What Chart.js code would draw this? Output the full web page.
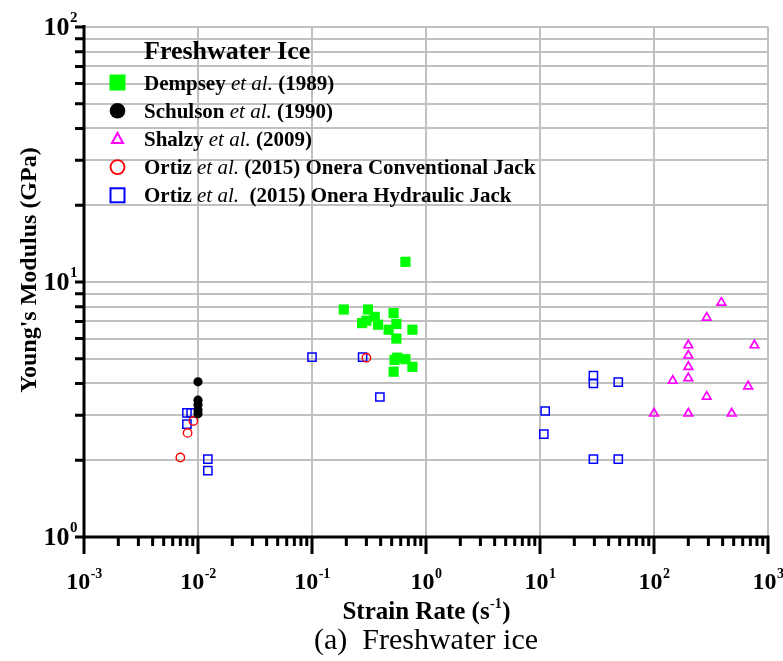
<!DOCTYPE html>
<html>
<head>
<meta charset="utf-8">
<script src="https://cdn.jsdelivr.net/npm/chart.js@4.4.0/dist/chart.umd.min.js"></script>
<style>
  html, body { margin: 0; padding: 0; background: #fff; }
  canvas { display: block; }
</style>
</head>
<body>
<canvas id="myChart" width="783" height="661"></canvas>
<script>
// strain rate (1/s) against Young's modulus (GPa), one pair of arrays per source
var dempseyRate    = [0.66, 0.19, 0.31, 0.52, 0.355, 0.275, 0.30, 0.38, 0.55, 0.47, 0.76, 0.55, 0.53, 0.56, 0.66, 0.76, 0.52];
var dempseyModulus = [12.0, 7.8, 7.8, 7.55, 7.3, 6.9, 7.05, 6.8, 6.85, 6.5, 6.5, 6.0, 4.95, 5.05, 4.98, 4.65, 4.45];

var schulsonRate    = [0.01, 0.01, 0.01, 0.01, 0.01];
var schulsonModulus = [4.06, 3.44, 3.30, 3.15, 3.04];

var shalzyRate    = [390, 290, 200, 760, 200, 200, 200, 146, 670, 290, 100, 200, 480];
var shalzyModulus = [8.3, 7.25, 5.65, 5.65, 5.15, 4.65, 4.2, 4.1, 3.9, 3.55, 3.05, 3.05, 3.05];

var ortizConvRate    = [0.0091, 0.0081, 0.0070, 0.30];
var ortizConvModulus = [2.85, 2.56, 2.05, 5.05];

var ortizHydRate    = [0.0080, 0.0087, 0.0080, 0.0122, 0.0122, 0.10, 0.278, 0.394, 29.4, 29.4, 48.6, 11.1, 10.8, 29.4, 48.6];
var ortizHydModulus = [3.07, 3.07, 2.77, 2.02, 1.82, 5.07, 5.07, 3.54, 4.29, 4.0, 4.05, 3.12, 2.53, 2.02, 2.02];

// decade exponents used for the tick labels
var xTickExponents = [-3, -2, -1, 0, 1, 2, 3];
var yTickExponents = [0, 1, 2];

var legendTitle = 'Freshwater Ice';
// each label: bold author, italic "et al.", bold rest
var legendLabels = [
  ['Dempsey ', 'et al.', ' (1989)'],
  ['Schulson ', 'et al.', ' (1990)'],
  ['Shalzy ', 'et al.', ' (2009)'],
  ['Ortiz ', 'et al.', ' (2015) Onera Conventional Jack'],
  ['Ortiz ', 'et al.', '  (2015) Onera Hydraulic Jack']
];
var xTitle = ['Strain Rate (s', '-1', ')'];
var yTitle = "Young's Modulus (GPa)";
var caption = '(a)  Freshwater ice';

var SERIF = '"Liberation Serif", "Times New Roman", serif';

function pts(xs, ys) {
  return xs.map(function (x, i) { return { x: x, y: ys[i] }; });
}

// legend marker drawing, same look as the plotted points but larger
function legendMarker(ctx, kind, cx, cy) {
  ctx.save();
  if (kind === 0) {
    ctx.fillStyle = '#00ff00';
    ctx.fillRect(cx - 8, cy - 8, 16, 16);
  } else if (kind === 1) {
    ctx.fillStyle = '#000';
    ctx.beginPath(); ctx.arc(cx, cy, 7.8, 0, Math.PI * 2); ctx.fill();
  } else if (kind === 2) {
    ctx.strokeStyle = '#ff00ff'; ctx.lineWidth = 2;
    ctx.beginPath();
    ctx.moveTo(cx, cy - 6); ctx.lineTo(cx + 5.5, cy + 4); ctx.lineTo(cx - 5.5, cy + 4); ctx.closePath();
    ctx.stroke();
  } else if (kind === 3) {
    ctx.strokeStyle = '#ff0000'; ctx.lineWidth = 1.8;
    ctx.beginPath(); ctx.arc(cx, cy, 7, 0, Math.PI * 2); ctx.stroke();
  } else {
    ctx.strokeStyle = '#0000ff'; ctx.lineWidth = 2;
    ctx.strokeRect(cx - 7, cy - 7, 14, 14);
  }
  ctx.restore();
}

// "10" with a raised exponent; anchor is the horizontal centre or right edge
function drawPower(ctx, exp, x, base, big, small, rise, align) {
  ctx.font = 'bold ' + big + 'px ' + SERIF;
  var w1 = ctx.measureText('10').width;
  ctx.font = 'bold ' + small + 'px ' + SERIF;
  var sup = String(exp);
  var w2 = ctx.measureText(sup).width;
  var left = align === 'center' ? x - (w1 + w2) / 2 : x - w1 - w2;
  ctx.font = 'bold ' + big + 'px ' + SERIF;
  ctx.fillText('10', left, base);
  ctx.font = 'bold ' + small + 'px ' + SERIF;
  ctx.fillText(sup, left + w1 + 0.5, base - rise);
}

var framePlugin = {
  id: 'frame',
  beforeDatasetsDraw: function (chart) {
    var ctx = chart.ctx, a = chart.chartArea, xs = chart.scales.x, ys = chart.scales.y;
    ctx.save();
    ctx.strokeStyle = '#000';
    ctx.lineWidth = 3;
    ctx.beginPath();
    ys.ticks.forEach(function (t) {
      var py = ys.getPixelForValue(t.value);
      ctx.moveTo(a.left - 9, py); ctx.lineTo(a.left, py);
    });
    for (var i = 0; i < xTickExponents.length; i++) {
      var d = Math.pow(10, xTickExponents[i]);
      var px = xs.getPixelForValue(d);
      ctx.moveTo(px, a.bottom); ctx.lineTo(px, a.bottom + 17);
      if (i < xTickExponents.length - 1) {
        for (var m = 2; m < 10; m++) {
          var pm = xs.getPixelForValue(m * d);
          ctx.moveTo(pm, a.bottom); ctx.lineTo(pm, a.bottom + 9);
        }
      }
    }
    ctx.moveTo(a.left, a.top - 2); ctx.lineTo(a.left, a.bottom);
    ctx.moveTo(a.left - 1.5, a.bottom); ctx.lineTo(a.right + 1.5, a.bottom);
    ctx.stroke();
    ctx.restore();
  },
  afterDraw: function (chart) {
    var ctx = chart.ctx, a = chart.chartArea, xs = chart.scales.x, ys = chart.scales.y;
    ctx.save();
    ctx.fillStyle = '#000';
    ctx.textBaseline = 'alphabetic';
    ctx.textAlign = 'left';

    xTickExponents.forEach(function (e) {
      drawPower(ctx, e, xs.getPixelForValue(Math.pow(10, e)), a.bottom + 52, 24, 14, 11, 'center');
    });
    yTickExponents.forEach(function (e) {
      drawPower(ctx, e, a.left - 7, ys.getPixelForValue(Math.pow(10, e)) + 8, 26, 15, 13, 'right');
    });

    // x axis title with superscript
    var cx = (a.left + a.right) / 2;
    ctx.font = 'bold 25px ' + SERIF;
    var w1 = ctx.measureText(xTitle[0]).width;
    var w3 = ctx.measureText(xTitle[2]).width;
    ctx.font = 'bold 14px ' + SERIF;
    var w2 = ctx.measureText(xTitle[1]).width;
    var lx = cx - (w1 + w2 + w3) / 2;
    ctx.font = 'bold 25px ' + SERIF;
    ctx.fillText(xTitle[0], lx, 619);
    ctx.fillText(xTitle[2], lx + w1 + w2 + 1, 619);
    ctx.font = 'bold 14px ' + SERIF;
    ctx.fillText(xTitle[1], lx + w1 + 0.5, 608);

    // y axis title
    ctx.save();
    ctx.translate(36, 270);
    ctx.rotate(-Math.PI / 2);
    ctx.textAlign = 'center';
    ctx.font = 'bold 24px ' + SERIF;
    ctx.fillText(yTitle, 0, 0);
    ctx.restore();

    // caption under the chart
    ctx.textAlign = 'center';
    ctx.font = '30px ' + SERIF;
    ctx.fillText(caption, cx, 649);

    // legend
    ctx.textAlign = 'left';
    ctx.font = 'bold 26px ' + SERIF;
    ctx.fillText(legendTitle, 144, 59);
    legendLabels.forEach(function (parts, i) {
      var cy = 82.5 + i * 28.2;
      legendMarker(ctx, i, 117.5, cy);
      var tx = 144, by = cy + 7;
      ctx.font = 'bold 21px ' + SERIF;
      ctx.fillText(parts[0], tx, by);
      tx += ctx.measureText(parts[0]).width;
      ctx.font = 'italic 21px ' + SERIF;
      ctx.fillText(parts[1], tx, by);
      tx += ctx.measureText(parts[1]).width;
      ctx.font = 'bold 21px ' + SERIF;
      ctx.fillText(parts[2], tx, by);
    });
    ctx.restore();
  }
};

var gridStyle = { color: '#c0c0c0', lineWidth: 2, drawTicks: false };

new Chart(document.getElementById('myChart'), {
  type: 'scatter',
  data: {
    datasets: [
      { label: 'Dempsey et al. (1989)', data: pts(dempseyRate, dempseyModulus),
        pointStyle: 'rect', pointRadius: 7.2, backgroundColor: '#00ff00', borderColor: '#00ff00', borderWidth: 0 },
      { label: 'Schulson et al. (1990)', data: pts(schulsonRate, schulsonModulus),
        pointStyle: 'circle', pointRadius: 4.6, backgroundColor: '#000', borderColor: '#000', borderWidth: 0 },
      { label: 'Shalzy et al. (2009)', data: pts(shalzyRate, shalzyModulus),
        pointStyle: 'triangle', pointRadius: 5, backgroundColor: 'rgba(0,0,0,0)', borderColor: '#ff00ff', borderWidth: 1.7 },
      { label: 'Ortiz et al. (2015) Onera Conventional Jack', data: pts(ortizConvRate, ortizConvModulus),
        pointStyle: 'circle', pointRadius: 4.2, backgroundColor: 'rgba(0,0,0,0)', borderColor: '#ff0000', borderWidth: 1.4 },
      { label: 'Ortiz et al. (2015) Onera Hydraulic Jack', data: pts(ortizHydRate, ortizHydModulus),
        pointStyle: 'rect', pointRadius: 5.8, backgroundColor: 'rgba(0,0,0,0)', borderColor: '#0000ff', borderWidth: 1.5 }
    ]
  },
  options: {
    responsive: false,
    animation: false,
    devicePixelRatio: 1,
    layout: { padding: { left: 84, top: 27, right: 15, bottom: 124 } },
    plugins: { legend: { display: false }, tooltip: { enabled: false } },
    scales: {
      x: {
        type: 'logarithmic', min: 1e-3, max: 1e3,
        afterBuildTicks: function (s) {
          s.ticks = xTickExponents.map(function (e) { return { value: Math.pow(10, e) }; });
        },
        ticks: { display: false },
        grid: gridStyle,
        border: { display: false },
        title: { display: false }
      },
      y: {
        type: 'logarithmic', min: 1, max: 100,
        afterBuildTicks: function (s) {
          var t = [];
          for (var e = 0; e < 2; e++) {
            for (var m = 1; m < 10; m++) t.push({ value: m * Math.pow(10, e) });
          }
          t.push({ value: 100 });
          s.ticks = t;
        },
        ticks: { display: false },
        grid: gridStyle,
        border: { display: false },
        title: { display: false }
      }
    }
  },
  plugins: [framePlugin]
});
</script>
</body>
</html>
